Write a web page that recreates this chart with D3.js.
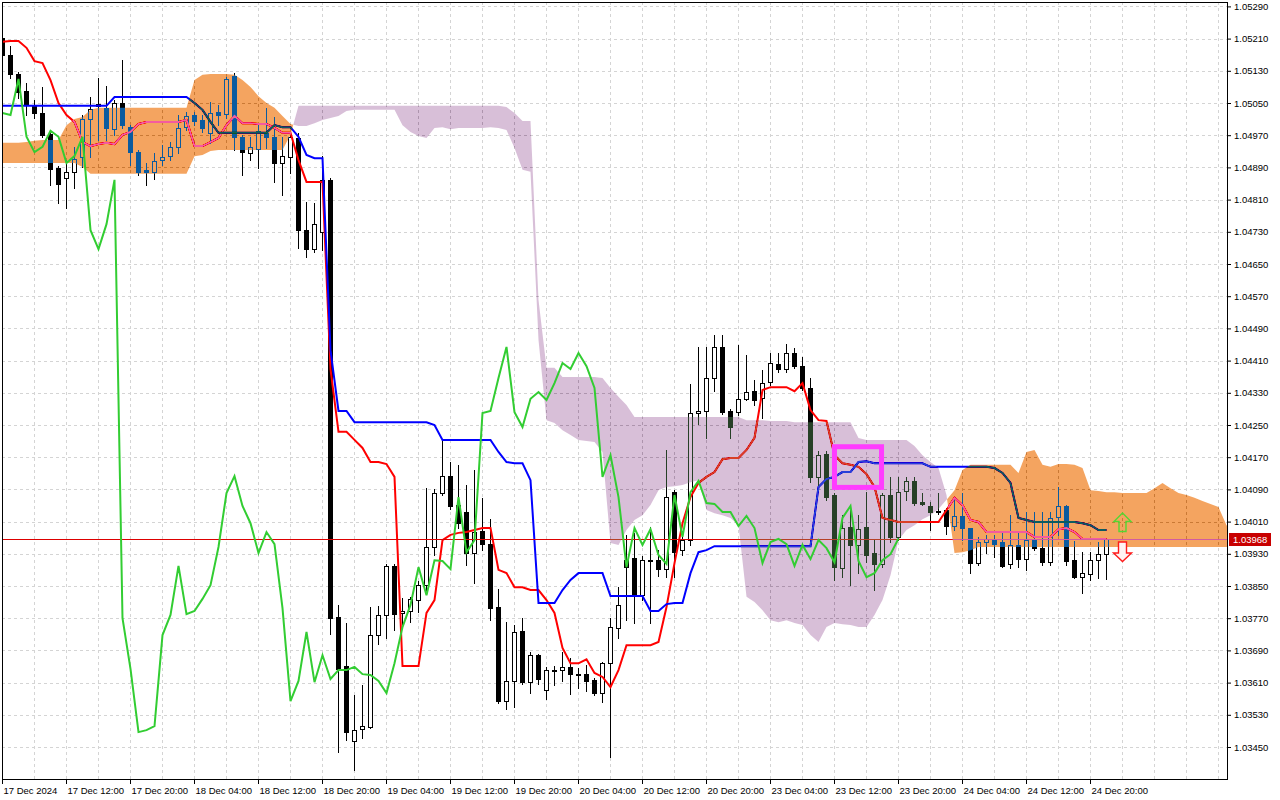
<!DOCTYPE html>
<html><head><meta charset="utf-8">
<script src="https://cdnjs.cloudflare.com/ajax/libs/d3/7.8.5/d3.min.js"></script>
<style>html,body{margin:0;padding:0;background:#fff;overflow:hidden}</style>
</head><body><svg id="c" width="1280" height="800"></svg>
<script>
// ---- DATA (EURUSD H1, 17-24 Dec 2024) ----
const openP=[1.05212,1.05169,1.05122,1.05080,1.05043,1.05025,1.04973,1.04889,1.04864,1.04879,
1.04916,1.05010,1.05043,1.05038,1.04985,1.05050,1.04990,1.04928,1.04884,1.04879,
1.04908,1.04918,1.04941,1.04990,1.05020,1.05008,1.04976,1.05028,1.05023,1.05117,
1.04966,1.04926,1.04936,1.04976,1.04966,1.04901,1.04916,1.04963,1.04734,1.04687,
1.04730,1.04859,1.03773,1.03651,1.03465,1.03494,1.03499,1.03728,1.03778,1.03900,
1.03783,1.03788,1.03815,1.03852,1.03947,1.04081,1.04123,1.04051,1.04034,1.03932,
1.03987,1.03954,1.03798,1.03564,1.03614,1.03738,1.03611,1.03678,1.03591,1.03639,
1.03641,1.03649,1.03631,1.03631,1.03616,1.03584,1.03658,1.03745,1.03914,1.03919,
1.03827,1.03914,1.03914,1.03892,1.04083,1.03939,1.03964,1.04280,1.04285,1.04367,
1.04444,1.04285,1.04282,1.04315,1.04334,1.04317,1.04357,1.04401,1.04389,1.04429,
1.04396,1.04342,1.04121,1.04178,1.04076,1.03895,1.03996,1.03952,1.03996,1.03932,
1.03905,1.04076,1.03972,1.04086,1.04111,1.04059,1.04049,1.04036,1.04039,1.03999,
1.04024,1.03994,1.03907,1.03959,1.03967,1.03959,1.03905,1.03952,1.03917,1.03964,
1.03944,1.03909,1.04021,1.04049,1.03914,1.03872,1.03880,1.03914,1.03929];
const highP=[1.05217,1.05192,1.05127,1.05100,1.05058,1.05090,1.04983,1.04894,1.04908,1.04941,
1.05020,1.05065,1.05112,1.05092,1.05058,1.05157,1.04995,1.04933,1.04901,1.04926,
1.04946,1.04953,1.05020,1.05028,1.05028,1.05020,1.05053,1.05045,1.05115,1.05125,
1.04971,1.04966,1.05000,1.05038,1.05015,1.04966,1.04976,1.04976,1.04804,1.04802,
1.04918,1.04864,1.03803,1.03758,1.03579,1.03604,1.03798,1.03800,1.03905,1.03905,
1.03820,1.03823,1.03862,1.04093,1.04091,1.04213,1.04158,1.04151,1.04101,1.04138,
1.04069,1.04016,1.03842,1.03760,1.03753,1.03770,1.03686,1.03681,1.03649,1.03651,
1.03686,1.03671,1.03646,1.03654,1.03621,1.03661,1.03770,1.03847,1.03977,1.03982,
1.03924,1.03996,1.03939,1.04188,1.04088,1.03982,1.04352,1.04444,1.04444,1.04474,
1.04474,1.04290,1.04449,1.04424,1.04362,1.04387,1.04429,1.04429,1.04451,1.04441,
1.04419,1.04367,1.04185,1.04185,1.04081,1.04026,1.04046,1.04026,1.04083,1.03964,
1.04081,1.04121,1.04121,1.04121,1.04121,1.04081,1.04059,1.04081,1.04044,1.04069,
1.04081,1.03994,1.03972,1.03977,1.03977,1.03982,1.04026,1.03984,1.04034,1.04034,
1.04034,1.04034,1.04096,1.04051,1.03962,1.03934,1.03934,1.03959,1.03968];
const lowP=[1.05164,1.05112,1.05063,1.05020,1.05013,1.04966,1.04846,1.04802,1.04789,1.04839,
1.04891,1.04916,1.04958,1.04958,1.04971,1.04988,1.04896,1.04871,1.04846,1.04861,
1.04896,1.04908,1.04926,1.04983,1.04995,1.04978,1.04951,1.04995,1.05013,1.04933,
1.04871,1.04908,1.04889,1.04938,1.04854,1.04821,1.04876,1.04690,1.04667,1.04680,
1.04685,1.03731,1.03437,1.03467,1.03393,1.03472,1.03497,1.03706,1.03721,1.03740,
1.03755,1.03760,1.03785,1.03837,1.03927,1.04076,1.04041,1.03994,1.03902,1.03857,
1.03939,1.03765,1.03559,1.03544,1.03549,1.03606,1.03584,1.03606,1.03569,1.03604,
1.03614,1.03581,1.03596,1.03589,1.03579,1.03562,1.03425,1.03721,1.03765,1.03758,
1.03815,1.03758,1.03875,1.03872,1.03872,1.03927,1.03952,1.04252,1.04218,1.04334,
1.04277,1.04218,1.04275,1.04312,1.04300,1.04267,1.04349,1.04382,1.04382,1.04391,
1.04337,1.04108,1.04101,1.04064,1.03865,1.03872,1.03852,1.03882,1.03909,1.03840,
1.03897,1.03959,1.03964,1.04064,1.04051,1.04051,1.03989,1.04029,1.03979,1.03989,
1.03964,1.03882,1.03902,1.03932,1.03922,1.03897,1.03895,1.03897,1.03890,1.03939,
1.03902,1.03902,1.03977,1.03902,1.03870,1.03832,1.03865,1.03870,1.03867];
const closeP=[1.05169,1.05122,1.05077,1.05045,1.05025,1.04971,1.04886,1.04849,1.04879,1.04911,
1.05010,1.05035,1.05048,1.04988,1.05050,1.04995,1.04928,1.04879,1.04879,1.04906,
1.04916,1.04941,1.04988,1.05018,1.05005,1.04988,1.05025,1.05020,1.05110,1.04966,
1.04928,1.04941,1.04981,1.04966,1.04901,1.04918,1.04966,1.04734,1.04687,1.04749,
1.04859,1.03770,1.03644,1.03487,1.03492,1.03502,1.03728,1.03778,1.03900,1.03780,
1.03788,1.03818,1.03852,1.03947,1.04081,1.04123,1.04049,1.04006,1.03932,1.03984,
1.03954,1.03795,1.03564,1.03614,1.03736,1.03611,1.03678,1.03619,1.03641,1.03641,
1.03649,1.03631,1.03629,1.03614,1.03584,1.03658,1.03748,1.03803,1.03897,1.03827,
1.03914,1.03912,1.03892,1.04071,1.03934,1.03964,1.04280,1.04285,1.04367,1.04444,
1.04282,1.04245,1.04315,1.04332,1.04312,1.04354,1.04404,1.04389,1.04429,1.04396,
1.04342,1.04121,1.04175,1.04071,1.03897,1.03994,1.03952,1.03991,1.03927,1.03905,
1.04076,1.03972,1.04083,1.04111,1.04056,1.04054,1.04034,1.04034,1.03999,1.04024,
1.03994,1.03907,1.03959,1.03967,1.03954,1.03900,1.03952,1.03917,1.03964,1.03944,
1.03909,1.04019,1.04049,1.03912,1.03872,1.03882,1.03914,1.03929,1.03968];
const tenkan=[1.05202,1.05204,1.05204,1.05187,1.05154,1.05149,1.05107,1.05050,1.05020,1.05003,
1.04953,1.04943,1.04948,1.04951,1.04948,1.04971,1.04978,1.04998,1.05003,1.05003,
1.05003,1.05003,1.05003,1.05008,1.04943,1.04943,1.04953,1.04963,1.04995,1.05018,
1.05000,1.05000,1.04998,1.04998,1.04988,1.04976,1.04976,1.04908,1.04854,1.04854,
1.04854,1.04389,1.04233,1.04233,1.04213,1.04193,1.04158,1.04158,1.04153,1.04121,
1.03651,1.03651,1.03651,1.03783,1.03815,1.03964,1.03977,1.03982,1.03984,1.03989,
1.03994,1.03994,1.03890,1.03882,1.03847,1.03847,1.03840,1.03840,1.03815,1.03783,
1.03696,1.03658,1.03658,1.03668,1.03634,1.03624,1.03599,1.03641,1.03703,1.03703,
1.03703,1.03703,1.03711,1.03798,1.03907,1.04006,1.04071,1.04106,1.04121,1.04133,
1.04165,1.04168,1.04168,1.04188,1.04218,1.04337,1.04344,1.04344,1.04344,1.04334,
1.04354,1.04287,1.04262,1.04260,1.04175,1.04155,1.04151,1.04146,1.04128,1.04096,
1.04019,1.04014,1.04009,1.04009,1.04009,1.04009,1.04009,1.04009,1.04039,1.04069,
1.04051,1.04014,1.04009,1.03984,1.03984,1.03984,1.03984,1.03984,1.03984,1.03972,
1.03972,1.03972,1.03991,1.03994,1.03984,1.03967,1.03967,1.03967,1.03967];
const kijun=[1.05043,1.05043,1.05043,1.05043,1.05043,1.05043,1.05043,1.05043,1.05043,1.05043,
1.05043,1.05043,1.05043,1.05043,1.05065,1.05065,1.05065,1.05065,1.05065,1.05065,
1.05065,1.05065,1.05065,1.05065,1.05050,1.05033,1.05003,1.04976,1.04976,1.04976,
1.04976,1.04976,1.04976,1.04976,1.04995,1.04990,1.04990,1.04966,1.04921,1.04913,
1.04913,1.04436,1.04285,1.04285,1.04257,1.04257,1.04257,1.04257,1.04257,1.04257,
1.04257,1.04257,1.04257,1.04257,1.04250,1.04213,1.04213,1.04213,1.04213,1.04213,
1.04213,1.04213,1.04183,1.04158,1.04155,1.04155,1.04113,1.03808,1.03808,1.03808,
1.03840,1.03865,1.03882,1.03882,1.03882,1.03882,1.03825,1.03825,1.03825,1.03825,
1.03825,1.03788,1.03788,1.03805,1.03808,1.03808,1.03882,1.03934,1.03939,1.03949,
1.03949,1.03949,1.03949,1.03949,1.03949,1.03949,1.03949,1.03949,1.03949,1.03949,
1.03949,1.03949,1.04096,1.04116,1.04121,1.04133,1.04133,1.04158,1.04160,1.04155,
1.04155,1.04155,1.04155,1.04155,1.04155,1.04155,1.04146,1.04146,1.04146,1.04146,
1.04146,1.04146,1.04146,1.04146,1.04143,1.04131,1.04106,1.04019,1.04014,1.04009,
1.04009,1.04009,1.04009,1.04009,1.04009,1.04006,1.04001,1.03989,1.03989];
const spanA=[1.04951,1.04951,1.04951,1.04953,1.04956,1.04958,1.04958,1.04958,1.04995,1.05010,
1.05015,1.05033,1.05038,1.05038,1.05038,1.05038,1.05038,1.05038,1.05038,1.05038,
1.05038,1.05038,1.05038,1.05038,1.05107,1.05120,1.05122,1.05122,1.05122,1.05120,
1.05107,1.05090,1.05067,1.05050,1.05038,1.05018,1.04998,1.04993,1.04993,1.05000,
1.05008,1.05013,1.05018,1.05030,1.05033,1.05033,1.05033,1.05033,1.05033,1.05033,
1.04995,1.04978,1.04968,1.04963,1.04988,1.04990,1.04985,1.04988,1.04988,1.04988,
1.04988,1.04990,1.04988,1.04983,1.04938,1.04884,1.04879,1.04461,1.04262,1.04255,
1.04237,1.04225,1.04213,1.04210,1.04208,1.04183,1.03957,1.03952,1.03989,1.04014,
1.04026,1.04051,1.04088,1.04096,1.04098,1.04101,1.04108,1.04113,1.04039,1.04031,
1.04026,1.04019,1.04001,1.03823,1.03810,1.03790,1.03765,1.03760,1.03765,1.03758,
1.03753,1.03728,1.03711,1.03748,1.03758,1.03755,1.03753,1.03748,1.03748,1.03778,
1.03815,1.03877,1.03964,1.03989,1.04001,1.04016,1.04026,1.04041,1.04064,1.04088,
1.04138,1.04151,1.04151,1.04151,1.04151,1.04151,1.04151,1.04131,1.04183,1.04188,
1.04151,1.04146,1.04153,1.04153,1.04151,1.04143,1.04088,1.04086,1.04083,1.04083,
1.04081,1.04081,1.04081,1.04081,1.04093,1.04106,1.04093,1.04081,1.04076,1.04069,
1.04061,1.04054,1.04046,1.04001,1.03977];
const spanB=[1.04901,1.04901,1.04901,1.04901,1.04901,1.04901,1.04901,1.04901,1.04901,1.04901,
1.04891,1.04874,1.04874,1.04874,1.04874,1.04874,1.04874,1.04874,1.04874,1.04874,
1.04874,1.04874,1.04874,1.04874,1.04918,1.04921,1.04931,1.04933,1.04933,1.04933,
1.04933,1.04933,1.04933,1.04933,1.04933,1.04933,1.04971,1.05043,1.05043,1.05043,
1.05043,1.05043,1.05043,1.05043,1.05043,1.05043,1.05043,1.05043,1.05043,1.05043,
1.05043,1.05043,1.05043,1.05043,1.05043,1.05043,1.05043,1.05043,1.05043,1.05043,
1.05043,1.05043,1.05043,1.05040,1.05025,1.05005,1.05005,1.04561,1.04392,1.04392,
1.04369,1.04369,1.04369,1.04369,1.04369,1.04367,1.04342,1.04320,1.04300,1.04270,
1.04270,1.04270,1.04270,1.04270,1.04270,1.04270,1.04270,1.04270,1.04270,1.04270,
1.04270,1.04270,1.04270,1.04262,1.04262,1.04262,1.04260,1.04260,1.04260,1.04257,
1.04257,1.04257,1.04257,1.04257,1.04257,1.04257,1.04257,1.04218,1.04213,1.04213,
1.04213,1.04213,1.04213,1.04213,1.04198,1.04175,1.04158,1.04143,1.04076,1.03932,
1.03934,1.03939,1.03947,1.03947,1.03947,1.03947,1.03947,1.03947,1.03947,1.03947,
1.03947,1.03947,1.03947,1.03947,1.03947,1.03947,1.03947,1.03947,1.03947,1.03947,
1.03947,1.03947,1.03947,1.03947,1.03947,1.03947,1.03947,1.03947,1.03947,1.03947,
1.03947,1.03947,1.03947,1.03947,1.03947];
const chikouShift=26;
const priceTicks=[1.0345,1.0353,1.0361,1.0369,1.0377,1.0385,1.0393,1.0401,1.0409,1.0417,1.0425,1.0433,
1.0441,1.0449,1.0457,1.0465,1.0473,1.0481,1.0489,1.0497,1.0505,1.0513,1.0521,1.0529];
const timeLabels=["17 Dec 2024","17 Dec 12:00","17 Dec 20:00","18 Dec 04:00","18 Dec 12:00","18 Dec 20:00",
"19 Dec 04:00","19 Dec 12:00","19 Dec 20:00","20 Dec 04:00","20 Dec 12:00","20 Dec 20:00",
"23 Dec 04:00","23 Dec 12:00","23 Dec 20:00","24 Dec 04:00","24 Dec 12:00","24 Dec 20:00"];
const barsPerLabel=8;
const lastPrice=1.03968;
const signalBox=[104.06,109.94,1.04196,1.04095]; // bar from, bar to, price top, price bottom

// ---- CHART ----
const FONT='"Liberation Sans", Arial, sans-serif';
const svg=d3.select("#c");
const PL=2,PR=1227,PT=2,PB=779;
const x=d3.scaleLinear().domain([0,153]).range([2,1226]);
const y=d3.scaleLinear().domain([1.0345,1.0529]).range([747,6.4]);

svg.append("rect").attr("width",1280).attr("height",800).attr("fill","#fff");
svg.append("defs").append("clipPath").attr("id","pc").append("rect")
  .attr("x",PL).attr("y",PT).attr("width",PR-PL).attr("height",PB-PT);
const plot=svg.append("g").attr("clip-path","url(#pc)");
plot.append("rect").attr("x",PL).attr("y",PT).attr("width",PR-PL).attr("height",PB-PT).attr("fill","#fff");

// grid
const grid=plot.append("g").attr("stroke","#d4d4d4").attr("stroke-dasharray","3,3").attr("shape-rendering","crispEdges");
grid.selectAll(".h").data(priceTicks).join("line").attr("class","h")
  .attr("x1",PL).attr("x2",PR).attr("y1",d=>Math.round(y(d))+0.5).attr("y2",d=>Math.round(y(d))+0.5);
const vBars=d3.range(4,154,4);
grid.selectAll(".v").data(vBars).join("line").attr("class","v")
  .attr("y1",PT).attr("y2",PB).attr("x1",d=>x(d)+0.5).attr("x2",d=>x(d)+0.5);

// candles
const bars=openP.map((o,i)=>({i,o,h:highP[i],l:lowP[i],c:closeP[i]}));
const cg=plot.append("g").attr("shape-rendering","crispEdges");
cg.selectAll("line").data(bars).join("line")
  .attr("x1",d=>x(d.i)+0.5).attr("x2",d=>x(d.i)+0.5)
  .attr("y1",d=>Math.round(y(d.h))).attr("y2",d=>Math.round(y(d.l))+1)
  .attr("stroke","#000");
cg.selectAll("rect").data(bars).join("rect")
  .attr("x",d=>x(d.i)-1.5).attr("width",4)
  .attr("y",d=>Math.round(y(Math.max(d.o,d.c)))+0.5)
  .attr("height",d=>Math.max(0,Math.round(y(Math.min(d.o,d.c)))-Math.round(y(Math.max(d.o,d.c)))))
  .attr("fill",d=>d.c>d.o?"#fff":"#000").attr("stroke","#000");

// tenkan / kijun
const line=d3.line().x(d=>x(d[0])+0.5).y(d=>y(d[1]));
plot.append("path").datum(tenkan.map((v,i)=>[i,v])).attr("d",line)
  .attr("fill","none").attr("stroke","#ff0000").attr("stroke-width",2);
plot.append("path").datum(kijun.map((v,i)=>[i,v])).attr("d",line)
  .attr("fill","none").attr("stroke","#0000ff").attr("stroke-width",2);

// price line (1px filled strip)
const ly=Math.round(y(lastPrice));
plot.append("rect").attr("x",PL).attr("width",PR-PL).attr("y",ly).attr("height",1)
  .attr("fill","#dd0000");

// cloud (XOR-like rendering via difference blend)
const runs=[];let cur=null;
for(let i=0;i<spanA.length;i++){
  const a=spanA[i],b=spanB[i],s=a>=b?1:-1;
  if(!cur){cur={s,pts:[[i,a,b]]};continue;}
  if(s===cur.s){cur.pts.push([i,a,b]);}
  else{
    const [pi,pa,pb]=cur.pts[cur.pts.length-1];
    const d0=pa-pb,d1=a-b,t=d0/(d0-d1),xi=pi+t,vi=pa+t*(a-pa);
    cur.pts.push([xi,vi,vi]);runs.push(cur);
    cur={s,pts:[[xi,vi,vi],[i,a,b]]};
  }
}
runs.push(cur);
const area=d3.area().x(d=>x(d[0])+0.5).y0(d=>y(d[2])).y1(d=>y(d[1]));
plot.append("g").selectAll("path").data(runs).join("path")
  .attr("d",d=>area(d.pts))
  .attr("fill",d=>d.s>0?"rgb(11,91,159)":"rgb(39,64,39)")
  .style("mix-blend-mode","difference");

// chikou
const chik=closeP.slice(chikouShift).map((v,i)=>[i,v]);
plot.append("path").datum(chik).attr("d",line)
  .attr("fill","none").attr("stroke","#32cd32").attr("stroke-width",2);

// signal box
plot.append("rect").attr("x",x(signalBox[0])).attr("y",y(signalBox[2]))
  .attr("width",x(signalBox[1])-x(signalBox[0])).attr("height",y(signalBox[3])-y(signalBox[2]))
  .attr("fill","none").attr("stroke","#ff3cff").attr("stroke-width",5);

// arrows
const ax=x(140)+0.5;
plot.append("path")
  .attr("d",`M${ax},513 L${ax+8.5},521.5 L${ax+3.5},521.5 L${ax+3.5},531.5 L${ax-3.5},531.5 L${ax-3.5},521.5 L${ax-8.5},521.5 Z`)
  .attr("fill","none").attr("stroke","#55d633").attr("stroke-width",1.4);
plot.append("path")
  .attr("d",`M${ax-4},542 L${ax+4},542 L${ax+4},553 L${ax+9},553 L${ax},561.5 L${ax-9},553 L${ax-4},553 Z`)
  .attr("fill","#fff2f2").attr("stroke","#ff1a1a").attr("stroke-width",1.4);

// frame
svg.append("rect").attr("x",PL+0.5).attr("y",PT+0.5).attr("width",PR-PL).attr("height",PB-PT)
  .attr("fill","none").attr("stroke","#000").attr("shape-rendering","crispEdges");

// axes
const yAxis=d3.axisRight(y).tickValues(priceTicks).tickFormat(d=>d.toFixed(5)).tickSize(4).tickPadding(3);
svg.append("g").attr("transform",`translate(${PR},0)`).call(yAxis)
  .call(g=>g.select(".domain").remove())
  .call(g=>g.selectAll("line").attr("stroke","#000"))
  .call(g=>g.selectAll("text").attr("font-family",FONT).attr("font-size","9.5px").attr("fill","#000"));
const xAxis=d3.axisBottom(x).tickValues(timeLabels.map((_,k)=>k*barsPerLabel))
  .tickFormat((d,k)=>timeLabels[k]).tickSize(5).tickPadding(3);
svg.append("g").attr("transform",`translate(0,${PB})`).call(xAxis)
  .call(g=>g.select(".domain").remove())
  .call(g=>g.selectAll("line").attr("stroke","#000"))
  .call(g=>g.selectAll("text").attr("font-family",FONT).attr("font-size","9.5px").attr("fill","#000")
     .attr("text-anchor","start").attr("x",1));

// last price label
svg.append("rect").attr("x",PR+2).attr("y",ly-6).attr("width",42).attr("height",13).attr("fill","#c80000");
svg.append("text").attr("x",PR+6).attr("y",ly+4).text(lastPrice.toFixed(5))
  .attr("font-family",FONT).attr("font-size","9.5px").attr("fill","#fff");
</script></body></html>
